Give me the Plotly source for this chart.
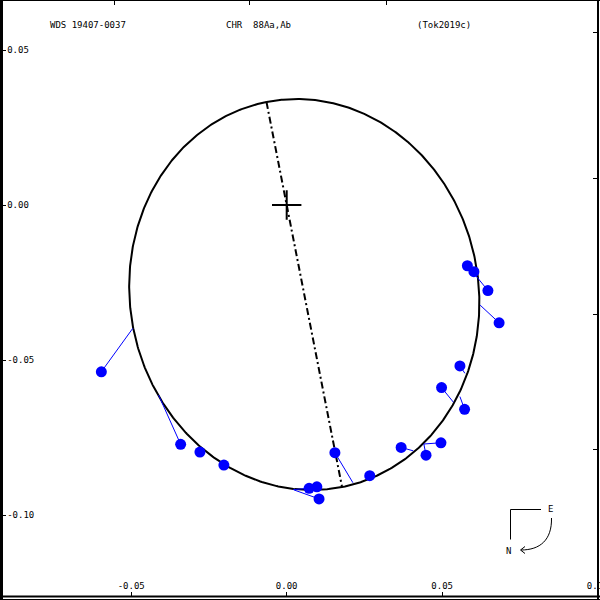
import numpy as np
import plotly.graph_objects as go

# ---- data (arcsec offsets) ----
obs_x = [0.0581, 0.0602, 0.0647, 0.0683, 0.0557, 0.0498, 0.0572, 0.0368, 0.0448, 0.0496,
         0.0267, 0.0155, 0.0072, 0.0097, 0.0104, -0.0202, -0.0279, -0.0341, -0.0596]
obs_y = [-0.0196, -0.0215, -0.0276, -0.0380, -0.0519, -0.0589, -0.0659, -0.0782, -0.0807, -0.0767,
         -0.0873, -0.0799, -0.0914, -0.0909, -0.0948, -0.0839, -0.0797, -0.0772, -0.0538]
pred_x = [0.0594, 0.0604, 0.0609, 0.0622, 0.0573, 0.0536, 0.0557, 0.0407, 0.0441, 0.0441,
          0.0274, 0.0213, 0.0021, 0.0094, 0.0023, -0.0208, -0.0282, -0.0412, -0.0495]
pred_y = [-0.0197, -0.0219, -0.0229, -0.0323, -0.0543, -0.0636, -0.0618, -0.0793, -0.0771, -0.0771,
          -0.0868, -0.0896, -0.0918, -0.0918, -0.0919, -0.0831, -0.0803, -0.0613, -0.0398]

# orbit (projected Thiele-Innes style vectors)
ecc = 0.465
vec_a = [-0.01215, 0.0621]
vec_b = [0.0621, 0.01239]

x_ticks = [-0.05, 0.0, 0.05, 0.10]
x_tick_text = ["-0.05", "0.00", "0.05", "0.10"]
y_ticks = [0.05, 0.0, -0.05, -0.10]
y_tick_text = ["0.05", "0.00", "-0.05", "-0.10"]
top_ticks = [-0.0555, -0.0120, 0.0321]
right_ticks = [0.0555, 0.0084, -0.0352, -0.0790]

x_range = [-0.09219, 0.10010]
y_range = [-0.12645, 0.06613]

# ---- geometry ----
E = np.linspace(0, 2 * np.pi, 721)
sq = np.sqrt(1 - ecc ** 2)
orb_x = vec_a[0] * (np.cos(E) - ecc) + vec_b[0] * sq * np.sin(E)
orb_y = vec_a[1] * (np.cos(E) - ecc) + vec_b[1] * sq * np.sin(E)
aps_x = [vec_a[0] * (1 - ecc), -vec_a[0] * (1 + ecc)]
aps_y = [vec_a[1] * (1 - ecc), -vec_a[1] * (1 + ecc)]

oc_x, oc_y = [], []
for ox, oy, px_, py_ in zip(obs_x, obs_y, pred_x, pred_y):
    oc_x += [ox, px_, None]
    oc_y += [oy, py_, None]

fig = go.Figure()
fig.add_trace(go.Scatter(x=orb_x, y=orb_y, mode="lines",
                         line=dict(color="black", width=2), hoverinfo="skip"))
fig.add_trace(go.Scatter(x=aps_x, y=aps_y, mode="lines",
                         line=dict(color="black", width=2, dash="7px,3px,2px,3px"), hoverinfo="skip"))
fig.add_trace(go.Scatter(x=oc_x, y=oc_y, mode="lines",
                         line=dict(color="#0000ff", width=1), hoverinfo="skip"))
fig.add_trace(go.Scatter(x=obs_x, y=obs_y, mode="markers",
                         marker=dict(color="#0000ff", size=11, line=dict(width=0))))
fig.add_trace(go.Scatter(x=[0], y=[0], mode="markers",
                         marker=dict(symbol="cross-thin", size=21, line=dict(color="black", width=2))))
# dummy trace for secondary tick axes
fig.add_trace(go.Scatter(x=[None], y=[None], xaxis="x2", yaxis="y2", hoverinfo="skip"))

font = dict(family="DejaVu Sans Mono", size=9, color="black")

fig.update_layout(
    width=600, height=600, autosize=False,
    margin=dict(l=0, r=2, t=0, b=3, pad=0),
    paper_bgcolor="white", plot_bgcolor="white",
    showlegend=False,
    font=font,
    xaxis=dict(range=x_range, showgrid=False, zeroline=False, showline=False, automargin=False,
               tickvals=x_ticks, ticktext=x_tick_text, ticks="inside", ticklen=5,
               tickcolor="black", tickwidth=1, ticklabelposition="inside",
               ticklabeloverflow="allow", tickfont=font),
    yaxis=dict(range=y_range, showgrid=False, zeroline=False, showline=False, automargin=False,
               tickvals=y_ticks, ticktext=y_tick_text, ticks="inside", ticklen=6,
               tickcolor="black", tickwidth=1, ticklabelposition="inside",
               ticklabeloverflow="allow", tickfont=font),
    xaxis2=dict(range=x_range, overlaying="x", side="top", showgrid=False, zeroline=False,
                automargin=False, tickvals=top_ticks, ticks="inside", ticklen=5,
                tickcolor="black", showticklabels=False),
    yaxis2=dict(range=y_range, overlaying="y", side="right", showgrid=False, zeroline=False,
                automargin=False, tickvals=right_ticks, ticks="inside", ticklen=5,
                tickcolor="black", showticklabels=False),
)

# convert figure pixels to paper (plot-area) coordinates: plot area is 598 x 597 px
def px(x):
    return x / 598.0

def py(y):
    return 1 - y / 597.0

shapes = [
    dict(type="rect", xref="paper", yref="paper", x0=px(0), x1=px(3), y0=py(600), y1=py(0),
         fillcolor="black", line=dict(width=0)),
    dict(type="line", xref="paper", yref="paper", x0=px(598), x1=px(598), y0=py(600), y1=py(0),
         line=dict(color="black", width=2)),
    dict(type="line", xref="paper", yref="paper", x0=px(0), x1=px(600), y0=py(0.5), y1=py(0.5),
         line=dict(color="black", width=1)),
    dict(type="line", xref="paper", yref="paper", x0=px(0), x1=px(600), y0=py(596.5), y1=py(596.5),
         line=dict(color="black", width=2)),
    dict(type="line", xref="paper", yref="paper", x0=px(0), x1=px(600), y0=py(599.5), y1=py(599.5),
         line=dict(color="black", width=1)),
    # compass
    dict(type="line", xref="paper", yref="paper", x0=px(510.5), x1=px(541), y0=py(509.5), y1=py(509.5),
         line=dict(color="black", width=1)),
    dict(type="line", xref="paper", yref="paper", x0=px(510.5), x1=px(510.5), y0=py(509.5), y1=py(539.5),
         line=dict(color="black", width=1)),
    dict(type="path", xref="paper", yref="paper",
         path=f"M {px(551.5)} {py(518)} C {px(552)} {py(540)} {px(540)} {py(550)} {px(521)} {py(550)}",
         line=dict(color="black", width=1)),
    dict(type="path", xref="paper", yref="paper",
         path=f"M {px(525)} {py(546.5)} L {px(520.5)} {py(550)} L {px(525)} {py(553.5)}",
         line=dict(color="black", width=1)),
]
fig.update_layout(shapes=shapes)

annots = [
    ("WDS 19407-0037", 88, 25),
    ("CHR\u00a0\u00a088Aa,Ab", 258, 25),
    ("(Tok2019c)", 444, 25),
    ("E", 550, 509),
    ("N", 508, 551),
]
fig.update_layout(annotations=[
    dict(text=t, x=px(x), y=py(y), xref="paper", yref="paper", showarrow=False,
         xanchor="center", yanchor="middle", font=font)
    for t, x, y in annots
])

post = (
    "document.documentElement.style.overflow='hidden';"
    "document.body.style.overflow='hidden';"
    "document.body.style.margin='0';document.body.style.padding='0';"
)
fig.write_html("out.html", config={"responsive": False, "displayModeBar": False},
               post_script=post)
